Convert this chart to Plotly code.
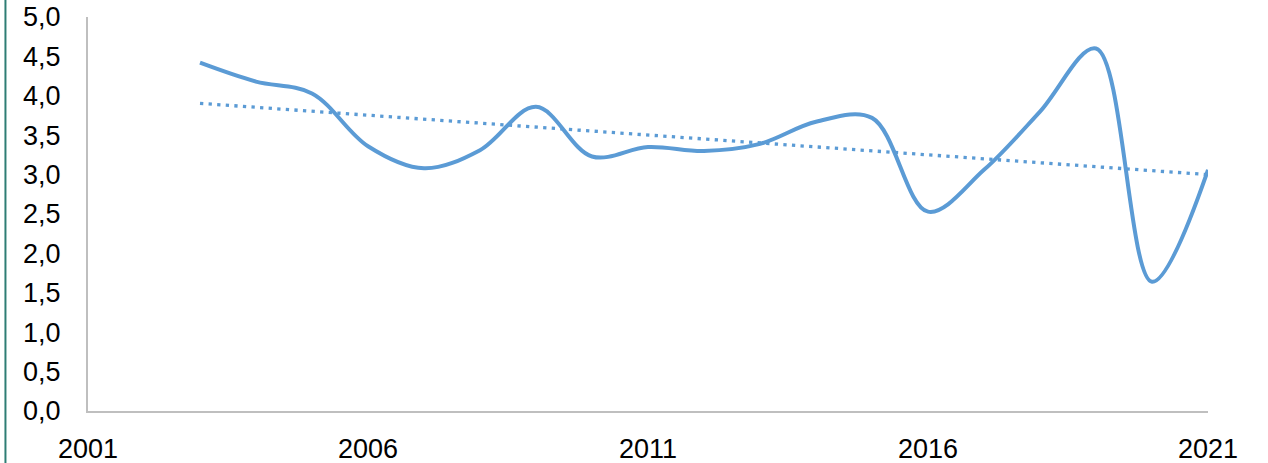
import numpy as np
import plotly.graph_objects as go

years = list(range(2003, 2022))
values = [4.42, 4.18, 4.03, 3.36, 3.08, 3.31, 3.86, 3.23, 3.35, 3.30, 3.39,
          3.67, 3.72, 2.53, 3.06, 3.80, 4.60, 1.64, 3.06]
x_ticks = [2001, 2006, 2011, 2016, 2021]
y_ticks = [0, 0.5, 1, 1.5, 2, 2.5, 3, 3.5, 4, 4.5, 5]

coef = np.polyfit(years, values, 1)
trend = list(np.polyval(coef, years))

color = "#5B9BD5"
fig = go.Figure()
fig.add_trace(go.Scatter(x=years, y=values, mode="lines",
                         line=dict(color=color, width=4, shape="spline", smoothing=1.0),
                         cliponaxis=False, showlegend=False))
fig.add_trace(go.Scatter(x=years, y=trend, mode="lines",
                         line=dict(color=color, width=3.3, dash="3.3px,5.3px"),
                         cliponaxis=False, showlegend=False))

fig.update_layout(
    width=1268, height=463,
    margin=dict(l=88, r=60, t=17, b=52, autoexpand=False),
    paper_bgcolor="white", plot_bgcolor="white",
    separators=",.",
    font=dict(family="Liberation Sans, Arial, sans-serif", size=27, color="#000000"),
    xaxis=dict(range=[2001, 2021], tickvals=x_ticks, ticktext=[str(v) for v in x_ticks],
               showgrid=False, zeroline=False, showline=True, linecolor="#BFBFBF", linewidth=2,
               ticks="", ticklabelstandoff=13, automargin=False),
    yaxis=dict(range=[0, 5], tickvals=y_ticks, tickformat=".1f",
               showgrid=False, zeroline=False, showline=True, linecolor="#BFBFBF", linewidth=2,
               ticks="", ticklabelstandoff=20, automargin=False),
    shapes=[dict(type="line", xref="paper", yref="paper", x0=-0.0737, x1=-0.0737,
                 y0=-0.2, y1=1.1, line=dict(color="#2E7D74", width=2))],
)
fig.write_html("out.html", config={"displayModeBar": False},
               post_script="document.body.style.margin='0px';document.body.style.overflow='hidden';")
